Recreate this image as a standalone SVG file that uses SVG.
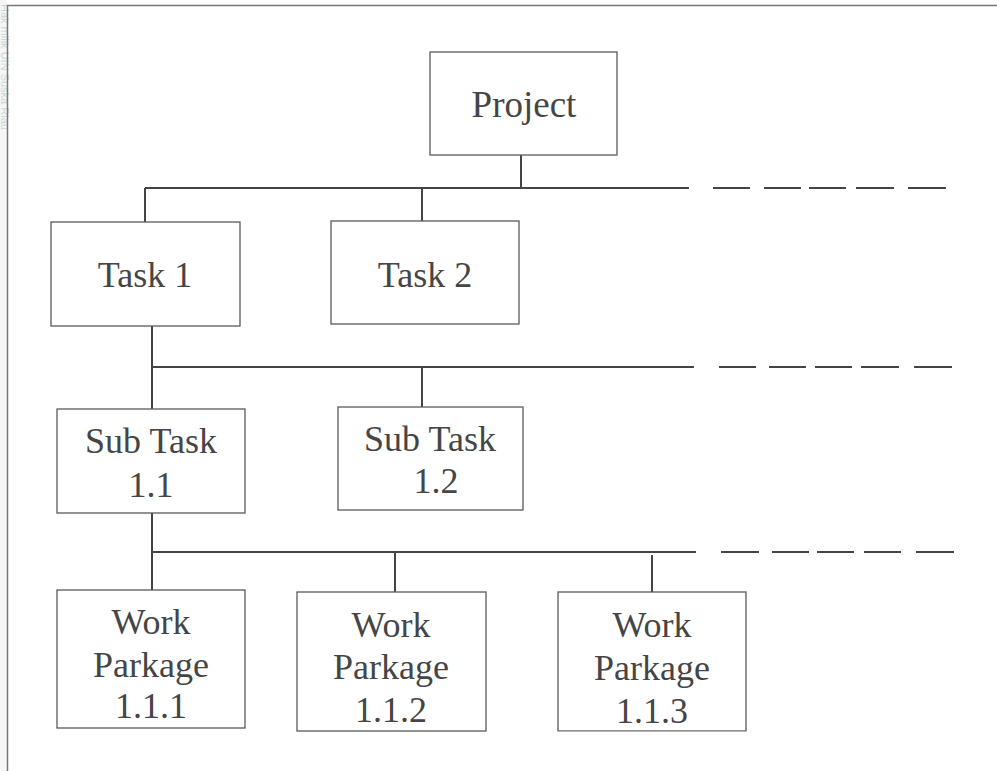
<svg xmlns="http://www.w3.org/2000/svg" width="997" height="771" viewBox="0 0 997 771">
<style>
.box{fill:#ffffff;stroke:#5a5a5a;stroke-width:1.3}
.lbl{font-family:"Liberation Serif","Times New Roman",serif;font-size:36px;fill:#454545;text-anchor:middle}
.ln{stroke:#444;stroke-width:2;fill:none}
.frame{stroke:#777;stroke-width:1.5;fill:none}
.wm{font-family:"Liberation Sans",Arial,sans-serif;font-size:11px;fill:#c8d8d8}
</style>
<rect width="997" height="771" fill="#ffffff"/>
<rect x="0" y="0" width="7" height="771" fill="#f6f6f6"/>
<text class="wm" transform="translate(1,4) rotate(90)">Hak milik UIN Suska Riau</text>
<path class="frame" d="M7.5,771 V5.5 H997"/>
<g id="connectors">
<path class="ln" d="M521,155 V188 M145,188 H689 M145,188 V222 M422,188 V221"/>
<path class="ln" d="M713,188 H750 M764,188 H801 M809,188 H846 M856,188 H894 M908,188 H946"/>
<path class="ln" d="M152,326 V409 M152,367 H694 M422,367 V407"/>
<path class="ln" d="M719,367 H756 M769,367 H806 M815,367 H852 M861,367 H899 M914,367 H952"/>
<path class="ln" d="M152,513 V590 M152,552 H696 M395,552 V592 M652,555 V592"/>
<path class="ln" d="M721,552 H759 M772,552 H809 M817,552 H854 M864,552 H901 M916,552 H954"/>
</g>
<g id="project"><rect class="box" x="430" y="52" width="187" height="103"/><text class="lbl" x="524" y="117" style="font-size:37px">Project</text></g>
<g id="task1"><rect class="box" x="51" y="222" width="189" height="104"/><text class="lbl" x="145" y="287">Task 1</text></g>
<g id="task2"><rect class="box" x="331" y="221" width="188" height="103"/><text class="lbl" x="425" y="287">Task 2</text></g>
<g id="subtask11"><rect class="box" x="57" y="409" width="188" height="104"/><text class="lbl" x="151" y="453">Sub Task</text><text class="lbl" x="151" y="497">1.1</text></g>
<g id="subtask12"><rect class="box" x="338" y="407" width="185" height="103"/><text class="lbl" x="430" y="451">Sub Task</text><text class="lbl" x="436" y="493">1.2</text></g>
<g id="wp111"><rect class="box" x="57" y="590" width="188" height="138"/><text class="lbl" x="151" y="634">Work</text><text class="lbl" x="151" y="677">Parkage</text><text class="lbl" x="151" y="718">1.1.1</text></g>
<g id="wp112"><rect class="box" x="297" y="592" width="189" height="139"/><text class="lbl" x="391" y="637">Work</text><text class="lbl" x="391" y="679">Parkage</text><text class="lbl" x="391" y="722">1.1.2</text></g>
<g id="wp113"><rect class="box" x="558" y="592" width="188" height="139"/><text class="lbl" x="652" y="637">Work</text><text class="lbl" x="652" y="680">Parkage</text><text class="lbl" x="652" y="723">1.1.3</text><rect x="557" y="731.7" width="190" height="6" fill="#ffffff"/></g>
</svg>
